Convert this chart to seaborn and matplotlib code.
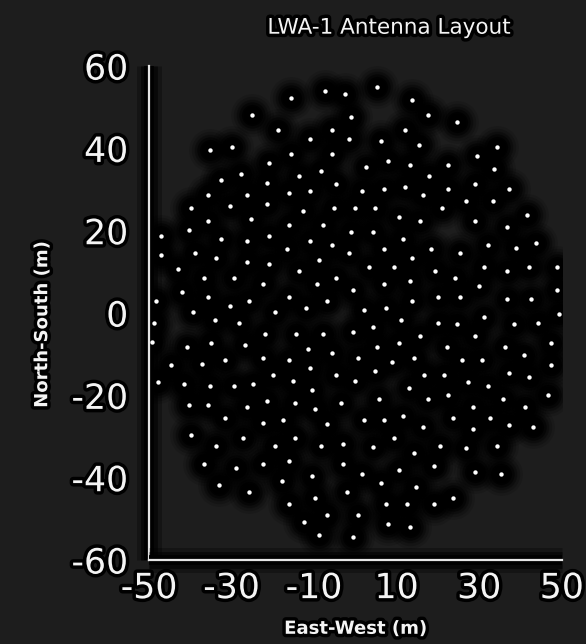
import matplotlib
matplotlib.use("Agg")
import matplotlib.pyplot as plt
import matplotlib.patheffects as pe
import seaborn as sns
import pandas as pd

# Antenna positions (m)
east_west = [
    -25.1, -18.8, -35.2, -29.9, -21.0, -27.7, -32.5, -21.5, -35.6, -26.2,
    -15.7, -7.3, -2.6, 5.3, 13.7, -1.0, -5.6, -11.0, -1.5, 6.3, 12.1, 15.3, -15.7, -5.6, 7.9, 2.6,
    13.2, -13.6, -8.4, -4.7, -16.2, -11.0, 1.6, 6.9, 12.1, 16.4,
    17.5, 24.7, 34.2, 29.5, 22.5, 33.6, 17.8, 29.0, 22.5, 37.3,
    -39.9, -30.4, -21.5, -35.6, -25.2, -40.4, -47.2, -32.5, -26.2, -21.0, -47.2, -38.8, -33.7, -26.2,
    -21.0, -43.0, -36.7, -29.4, -22.5, -42.0, -35.6, -48.3, -30.4, -25.7, -39.3, -19.4, -48.7, -34.1, -28.3,
    -12.6, -5.2, 0.0, 4.8, 10.6, 15.7, -16.2, -7.8, -1.0, 4.3, 11.5, -11.0, -5.7, -16.6, 6.9, -1.5,
    13.7, -8.9, 3.2, 9.4, -13.6, -4.7, 13.2, -9.3, 6.9, -0.5, -16.2, -6.8, 13.7, -12.0, 2.1, 7.4, 11.1,
    21.1, 26.8, 33.3, 41.6, 29.0, 36.8, 18.3, 25.3, 32.1, 38.9, 43.7, 19.4, 24.2, 31.1, 36.8, 42.1,
    48.9, 30.0, 20.0, 25.3, 36.8, 42.5, 48.9, 31.1, 49.3, 20.0, 24.7, 38.4, 44.3,
    -49.3, -40.9, -35.1, -26.8, -22.0, -44.6, -37.2, -31.5, -22.5, -47.8, -41.5, -35.2, -29.4, -24.7,
    -19.9, -40.4, -35.6, -26.2, -21.5, -31.5, -22.5, -17.5, -39.9, -27.3, -33.7, -19.4,
    -14.5, -7.8, -0.5, 4.3, 15.7, 10.5, -11.5, -5.6, 5.3, -16.2, 0.6, 8.9, 14.2, -11.0, 4.8, -4.7,
    16.7, -15.2, 0.0, -10.6, 13.1, 5.8, -14.6, -3.6, -9.9, 11.5, -6.8, 2.1, 6.9, 16.4, -14.6, 9.4,
    -8.3, -3.1, 4.3,
    29.0, 22.1, 36.2, 47.4, 40.9, 25.8, 30.6, 47.3, 21.5, 37.3, 42.1, 27.4, 32.1, 17.5, 22.5, 35.8,
    46.7, 28.4, 41.0, 23.7, 32.6, 28.4, 37.3, 43.1, 20.4, 26.8, 34.2,
    -36.7, -28.9, -22.5, -17.9, -33.0, -25.7,
    -16.2, -3.1, 1.6, 10.6, 14.3, -10.5, 6.3, 14.8, -2.0, -9.9, -16.2, 7.4, 12.6, -6.8, 0.6, -12.5,
    7.9, 13.2, -8.9, -0.5,
    19.1, 29.0, 35.3, 23.7, 19.1,
]
north_south = [
    48.1, 44.4, 39.6, 40.3, 36.5, 33.8, 32.3, 31.7, 28.6, 28.6,
    52.2, 54.0, 53.3, 54.9, 51.8, 47.6, 44.4, 42.4, 42.4, 41.7, 44.4, 40.8, 38.7, 38.6, 37.0, 35.5,
    36.0, 33.4, 34.5, 31.3, 29.1, 29.7, 29.7, 30.2, 30.7, 28.7,
    48.1, 46.5, 40.3, 38.1, 36.0, 35.0, 33.4, 31.3, 30.2, 30.2,
    25.5, 26.0, 26.5, 22.3, 22.8, 20.2, 18.7, 18.1, 17.6, 18.7, 14.0, 14.6, 13.4, 12.5,
    12.0, 10.8, 8.6, 8.6, 7.0, 5.0, 4.0, 2.9, 1.8, 2.9, 0.2, 0.2, -2.3, -1.8, -2.3,
    24.9, 25.5, 25.5, 25.5, 23.4, 22.3, 21.3, 21.3, 19.7, 19.7, 18.1, 17.6, 16.6, 15.5, 15.5, 14.5,
    13.3, 12.9, 11.3, 11.3, 10.3, 8.6, 7.8, 7.0, 7.0, 5.5, 4.0, 2.9, 2.9, 1.3, 0.8, 1.3, -1.8,
    25.5, 27.1, 27.1, 23.9, 22.3, 20.8, 15.5, 14.5, 16.6, 15.9, 17.1, 10.3, 8.6, 11.3, 10.3, 11.3,
    11.3, 6.6, 4.0, 4.0, 3.4, 3.4, 5.5, -0.9, -0.3, -2.5, -2.6, -2.6, -2.3,
    -7.1, -8.3, -7.2, -7.7, -5.0, -12.5, -12.4, -11.3, -10.9, -16.7, -17.2, -17.7, -17.7, -17.2,
    -15.0, -22.3, -22.3, -22.9, -21.3, -25.6, -26.6, -25.9, -29.7, -30.3, -32.4, -32.4,
    -5.0, -5.0, -4.5, -3.5, -5.5, -7.2, -8.7, -9.8, -8.2, -11.3, -10.8, -11.8, -10.8, -13.4, -14.0, -15.0,
    -15.0, -16.6, -16.6, -18.7, -18.2, -20.8, -21.8, -21.8, -23.4, -24.9, -27.0, -26.0, -26.0, -27.6, -30.3, -30.3,
    -32.2, -31.7, -32.6,
    -5.6, -8.3, -8.3, -7.2, -10.3, -11.3, -11.3, -12.5, -15.0, -14.6, -15.5, -16.7, -17.7, -20.8, -19.8, -20.8,
    -19.8, -22.9, -22.9, -25.6, -25.6, -28.2, -27.1, -27.6, -32.4, -32.8, -32.4,
    -36.7, -37.6, -36.7, -40.9, -41.8, -43.5,
    -36.0, -36.6, -39.2, -38.2, -34.0, -39.7, -41.4, -42.3, -43.4, -45.0, -46.5, -46.5, -46.5, -49.1, -49.1, -50.7,
    -51.3, -51.9, -54.0, -54.5,
    -37.1, -38.7, -39.2, -45.0, -46.5,
]

x_ticks_major = [-50, -30, -10, 10, 30, 50]
x_ticks_minor = [-40, -20, 0, 20, 40]
y_ticks_major = [-60, -40, -20, 0, 20, 40, 60]
y_ticks_minor = [-50, -30, -10, 10, 30, 50]

title = "LWA-1 Antenna Layout"
xlabel = "East-West (m)"
ylabel = "North-South (m)"

df = pd.DataFrame({"ew": east_west, "ns": north_south})

BG = "#1d1d1d"
FG = "#f4f4f4"
sns.set_style("dark", rc={"axes.facecolor": BG, "figure.facecolor": BG})
plt.rcParams["font.family"] = ["DejaVu Sans"]
plt.rcParams["axes.unicode_minus"] = False

fig = plt.figure(figsize=(5.86, 6.44), dpi=100)
ax = fig.add_axes([0.2543, 0.1304, 0.7043, 0.767])
ax.set_facecolor(BG)

# soft black halos around each antenna
for s, a in [(950, 0.12), (720, 0.2), (520, 0.3), (360, 0.5), (230, 0.8), (150, 1.0)]:
    sns.scatterplot(data=df, x="ew", y="ns", ax=ax, s=s, color="black",
                    alpha=a, linewidth=0, legend=False, zorder=1)
# white antenna dots
sns.scatterplot(data=df, x="ew", y="ns", ax=ax, s=10, color="white",
                linewidth=0, legend=False, zorder=3)

ax.set_xlim(-50, 50)
ax.set_ylim(-60, 60)

spine_glow = [pe.Stroke(linewidth=18, foreground="black", alpha=0.3, capstyle="butt"),
              pe.Stroke(linewidth=12, foreground="black", alpha=0.6, capstyle="butt"),
              pe.Stroke(linewidth=7, foreground="black", capstyle="butt"),
              pe.Normal()]
for side in ["top", "right"]:
    ax.spines[side].set_visible(False)
for side in ["left", "bottom"]:
    ax.spines[side].set_color("#e6e6e6")
    ax.spines[side].set_linewidth(1.6)
    ax.spines[side].set_zorder(2)
    ax.spines[side].set_path_effects(spine_glow)

glow = [pe.withStroke(linewidth=5, foreground="black")]

ax.set_xticks(x_ticks_major)
ax.set_xticks(x_ticks_minor, minor=True)
ax.set_yticks(y_ticks_major)
ax.set_yticks(y_ticks_minor, minor=True)
ax.set_xticklabels([str(v) for v in x_ticks_major])
ax.set_yticklabels([str(v) for v in y_ticks_major])
ax.tick_params(axis="both", which="major", direction="out", length=6, width=1.4,
               color="#e6e6e6", labelcolor=FG, labelsize=25)
ax.tick_params(axis="both", which="minor", direction="out", length=4, width=1.2,
               color="#e6e6e6")
ax.tick_params(axis="x", which="major", pad=2)
ax.tick_params(axis="y", which="major", pad=9)
for lab in ax.get_xticklabels() + ax.get_yticklabels():
    lab.set_path_effects(glow)
ax.grid(False)

ax.set_xlabel(xlabel, color=FG, fontsize=13, fontweight="bold",
              path_effects=glow)
ax.set_ylabel(ylabel, color=FG, fontsize=13, fontweight="bold",
              path_effects=glow)
ax.xaxis.set_label_coords(0.5, -0.121)
ax.yaxis.set_label_coords(-0.237, 0.476)
fig.text(0.664, 0.957, title, color=FG, fontsize=15.5, ha="center", va="center",
         path_effects=glow)

fig.savefig("out.png", dpi=100, facecolor=BG)
